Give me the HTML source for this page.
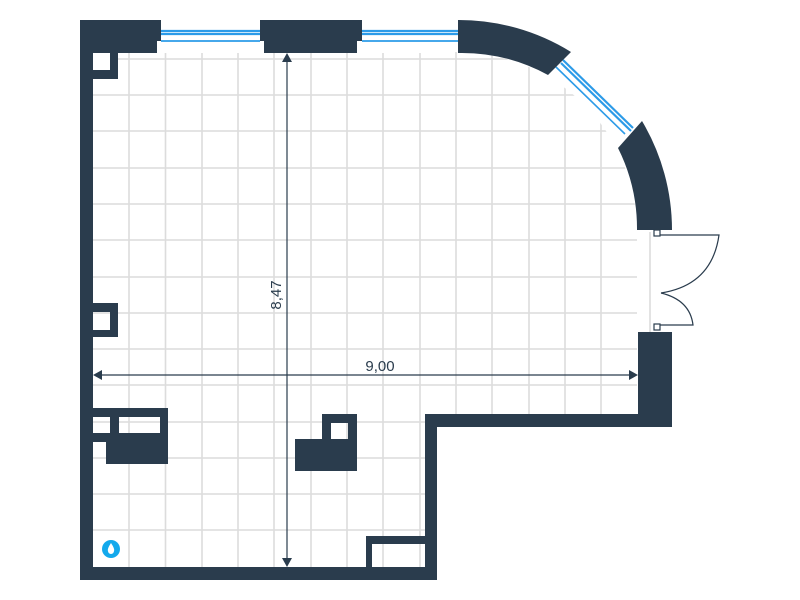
<!DOCTYPE html>
<html><head><meta charset="utf-8"><style>body{margin:0;background:#fff}svg{display:block}</style></head><body>
<svg width="800" height="600" viewBox="0 0 800 600" xmlns="http://www.w3.org/2000/svg">
<defs>
<clipPath id="room">
<path d="M93 53 H455 L455 52 A180 180 0 0 1 637 232 V414 H425 V567 H93 Z"/>
</clipPath>
</defs>
<rect width="800" height="600" fill="#fff"/>
<g clip-path="url(#room)" stroke="#dcdcdc" stroke-width="1.6">
<line x1="129" y1="40" x2="129" y2="580"/><line x1="165.5" y1="40" x2="165.5" y2="580"/><line x1="202" y1="40" x2="202" y2="580"/><line x1="238" y1="40" x2="238" y2="580"/><line x1="274" y1="40" x2="274" y2="580"/><line x1="311" y1="40" x2="311" y2="580"/><line x1="347" y1="40" x2="347" y2="580"/><line x1="383" y1="40" x2="383" y2="580"/><line x1="420" y1="40" x2="420" y2="580"/><line x1="456" y1="40" x2="456" y2="580"/><line x1="492" y1="40" x2="492" y2="580"/><line x1="529" y1="40" x2="529" y2="580"/><line x1="565" y1="40" x2="565" y2="580"/><line x1="601" y1="40" x2="601" y2="580"/>
<line x1="80" y1="59" x2="700" y2="59"/><line x1="80" y1="95" x2="700" y2="95"/><line x1="80" y1="131" x2="700" y2="131"/><line x1="80" y1="168" x2="700" y2="168"/><line x1="80" y1="204" x2="700" y2="204"/><line x1="80" y1="240" x2="700" y2="240"/><line x1="80" y1="277" x2="700" y2="277"/><line x1="80" y1="313" x2="700" y2="313"/><line x1="80" y1="349" x2="700" y2="349"/><line x1="80" y1="385" x2="700" y2="385"/><line x1="80" y1="422" x2="700" y2="422"/><line x1="80" y1="458" x2="700" y2="458"/><line x1="80" y1="494" x2="700" y2="494"/><line x1="80" y1="530" x2="700" y2="530"/>
</g>
<line x1="650" y1="232" x2="650" y2="332" stroke="#dcdcdc" stroke-width="1.6"/>
<g stroke="#2c9be8">
<line x1="161" y1="31" x2="260" y2="31" stroke-width="2.2"/><line x1="161" y1="34" x2="260" y2="34" stroke-width="2.2"/><line x1="161" y1="41" x2="260" y2="41" stroke-width="1.8"/>
<line x1="362" y1="31" x2="460" y2="31" stroke-width="2.2"/><line x1="362" y1="34" x2="460" y2="34" stroke-width="2.2"/><line x1="362" y1="41" x2="460" y2="41" stroke-width="1.8"/>
<line x1="563" y1="60" x2="633" y2="128" stroke-width="2.2"/><line x1="561" y1="63" x2="631" y2="131" stroke-width="2.2"/><line x1="556" y1="67" x2="625" y2="134" stroke-width="1.6"/>
</g>
<g fill="#2a3c4d">
<path d="M80 20 H161 V41 H157 V53 H118 V79 H93 V580 H80 Z"/>
<rect x="260" y="20" width="102" height="21"/><rect x="264" y="41" width="93" height="12"/>
<path d="M458 20 A213 213 0 0 1 571 52 L548 75 A180 180 0 0 0 458 53 Z"/>
<path d="M642 121 A213 213 0 0 1 672 230 L637 230 A180 180 0 0 0 618 148 Z"/>
<rect x="638" y="332" width="34" height="95"/>
<rect x="425" y="414" width="247" height="13"/>
<rect x="425" y="414" width="12" height="166"/>
<rect x="80" y="567" width="357" height="13"/>
<path d="M93 303 H118 V337 H93 Z M93 312 V330 H110 V312 Z" fill-rule="evenodd"/>
<path d="M93 408 H168 V464 H106 V442 H93 Z M93 417 V433 H110 V417 Z M119 417 V433 H160 V417 Z" fill-rule="evenodd"/>
<path d="M322 414 H357 V471 H295 V439 H322 Z M331 423 V439 H348 V423 Z" fill-rule="evenodd"/>
<path d="M366 536 H425 V567 H366 Z M372 544 V567 H425 V544 Z" fill-rule="evenodd"/>
</g>
<rect x="93" y="53" width="17" height="17" fill="#fff"/>
<g fill="none" stroke="#2a3c4d" stroke-width="1.2">
<path d="M660 235 H719 Q712 285 661 293"/>
<path d="M660 325 H693 Q690 300 661 293"/>
<rect x="654" y="230" width="6" height="6"/><rect x="654" y="324" width="6" height="6"/>
</g>
<g stroke="#2a3c4d" stroke-width="1.2">
<line x1="287" y1="60" x2="287" y2="562"/>
<line x1="98" y1="375" x2="632" y2="375"/>
</g>
<g fill="#2a3c4d">
<path d="M287 53 L282 62 H292 Z"/><path d="M287 567 L282 558 H292 Z"/>
<path d="M93 375 L102 370 V380 Z"/><path d="M638 375 L629 370 V380 Z"/>
</g>
<text x="380" y="371" font-family="Liberation Sans, sans-serif" font-size="15" fill="#2a3c4d" text-anchor="middle">9,00</text>
<text transform="translate(281,295) rotate(-90)" font-family="Liberation Sans, sans-serif" font-size="15" fill="#2a3c4d" text-anchor="middle">8,47</text>
<circle cx="111" cy="549" r="9" fill="#13a9ec"/>
<path d="M111 543 Q107 549 108 551 A3 3 0 0 0 114 551 Q115 549 111 543 Z" fill="#fff"/>
</svg>
</body></html>
